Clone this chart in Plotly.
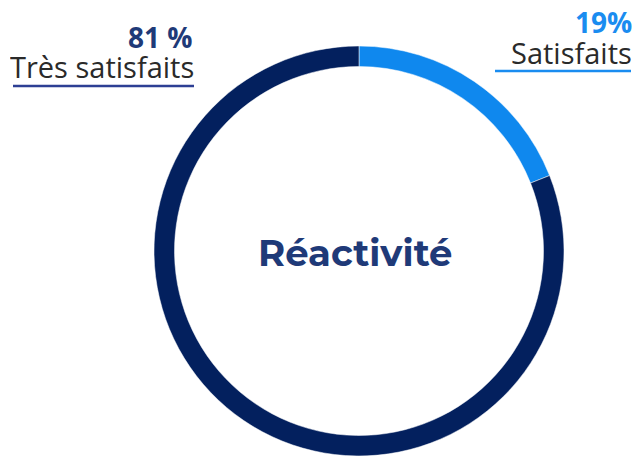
import plotly.graph_objects as go

W, H = 633, 456

labels = ["Satisfaits", "Très satisfaits"]
values = [19, 81]
pct_labels = ["19%", "81 %"]
colors = ["#0f88ee", "#03205e"]
title = "Réactivité"

# ring geometry in pixels
cx, top, bottom = 359, 46, 456
r = (bottom - top) / 2
dom_x = [(cx - r) / W, (cx + r) / W]
dom_y = [(H - bottom) / H, (H - top) / H]

fig = go.Figure()
fig.add_trace(go.Pie(
    labels=labels, values=values, sort=False, direction="clockwise", rotation=0,
    hole=0.9, textinfo="none", hoverinfo="label+percent",
    marker=dict(colors=colors, line=dict(color="white", width=0.5)),
    domain=dict(x=dom_x, y=dom_y), showlegend=False,
))

ann = []
# centre title
ann.append(dict(text="<b>" + title + "</b>", x=(cx - 4) / W, y=1 - 252 / H, xref="paper", yref="paper",
                showarrow=False, xanchor="center", yanchor="middle",
                font=dict(family="Montserrat, Lato, sans-serif", size=37, color="#1f3a78")))
# left label
ann.append(dict(text="<b>" + pct_labels[1] + "</b>", x=195 / W, y=1 - 37 / H, xref="paper", yref="paper",
                showarrow=False, xanchor="right", yanchor="middle", height=26,
                font=dict(family="Open Sans", size=28, color="#1f3a78")))
ann.append(dict(text=labels[1], x=196 / W, y=1 - 66 / H, xref="paper", yref="paper",
                showarrow=False, xanchor="right", yanchor="middle", height=26,
                font=dict(family="Open Sans", size=29, color="#2a2a2a")))
# right label
ann.append(dict(text="<b>" + pct_labels[0] + "</b>", x=634 / W, y=1 - 22 / H, xref="paper", yref="paper",
                showarrow=False, xanchor="right", yanchor="middle", height=26,
                font=dict(family="Open Sans", size=28, color="#1a8cf0")))
ann.append(dict(text=labels[0], x=634 / W, y=1 - 52 / H, xref="paper", yref="paper",
                showarrow=False, xanchor="right", yanchor="middle", height=26,
                font=dict(family="Open Sans", size=29, color="#2a2a2a")))

shapes = [
    dict(type="line", xref="paper", yref="paper", x0=13 / W, x1=194 / W, y0=1 - 86 / H, y1=1 - 86 / H,
         line=dict(color="#2d3f94", width=2.5)),
    dict(type="line", xref="paper", yref="paper", x0=495 / W, x1=631 / W, y0=1 - 71 / H, y1=1 - 71 / H,
         line=dict(color="#1a8cf0", width=2.5)),
]

fig.update_layout(width=W, height=H, margin=dict(l=0, r=0, t=0, b=0),
                  paper_bgcolor="white", plot_bgcolor="white",
                  annotations=ann, shapes=shapes)
fig.write_html("out.html", config={"displayModeBar": False},
               post_script="document.body.style.margin='0';document.body.style.overflow='hidden';")
